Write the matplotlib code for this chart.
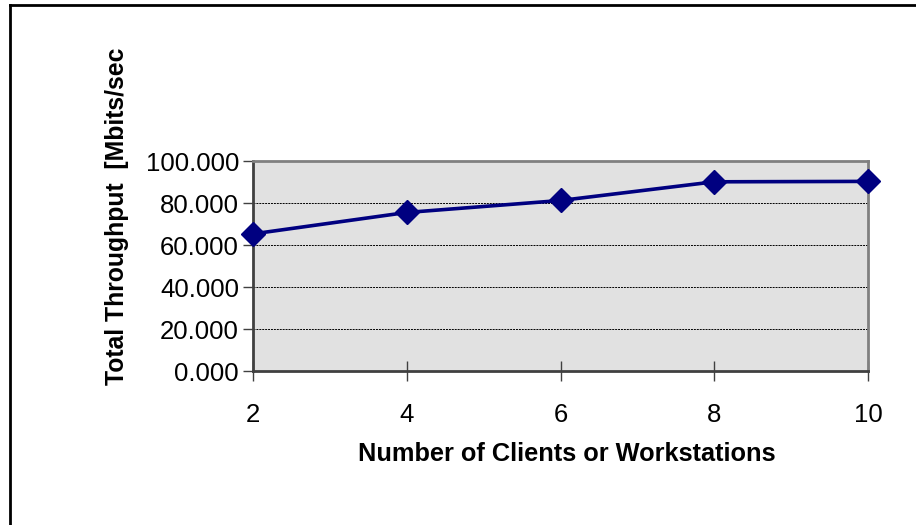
import matplotlib.pyplot as plt
import matplotlib as mpl
from matplotlib.lines import Line2D

mpl.rcParams["font.family"] = ["Liberation Sans", "DejaVu Sans"]

clients = [2, 4, 6, 8, 10]
throughput = [65.3, 75.5, 81.2, 90.1, 90.3]
yticks = [0, 20, 40, 60, 80, 100]

fig = plt.figure(figsize=(9.16, 5.25), dpi=100)
ax = fig.add_axes([0.2762, 0.2933, 0.6714, 0.4])
ax.set_facecolor("#e1e1e1")

ax.plot(clients, throughput, color="#000080", lw=2.6, marker="D", ms=12,
        markerfacecolor="#000080", markeredgecolor="#000080", zorder=3, clip_on=False)

ax.set_xlim(2, 10)
ax.set_ylim(0, 100)
ax.set_xticks(clients)
ax.set_yticks(yticks)
ax.set_yticklabels([f"{v:.3f}" for v in yticks])
ax.yaxis.grid(True, color="black", ls=(0, (2, 1)), lw=0.7)
ax.set_axisbelow(True)

for side in ["top", "right"]:
    ax.spines[side].set_color("#808080")
    ax.spines[side].set_linewidth(2)
for side in ["left", "bottom"]:
    ax.spines[side].set_color("#404040")
    ax.spines[side].set_linewidth(2)

ax.tick_params(axis="y", direction="out", length=7, width=1, colors="#404040",
               labelcolor="black", labelsize=18.5, pad=3)
ax.tick_params(axis="x", direction="inout", length=14, width=1, colors="#404040",
               labelcolor="black", labelsize=18.5, pad=16)

ax.set_xlabel("Number of Clients or Workstations", fontsize=18.3, fontweight="bold")
ax.xaxis.set_label_coords(0.511, -0.34)
fig.text(0.128, 0.588, "Total Throughput  [Mbits/sec", rotation=90, fontsize=17.8,
         fontweight="bold", ha="center", va="center")

# frame on the left and top edges of the figure
fig.add_artist(Line2D([0.0109, 0.0109], [0, 0.99], transform=fig.transFigure, color="black", lw=2))
fig.add_artist(Line2D([0.0109, 1.0], [0.99, 0.99], transform=fig.transFigure, color="black", lw=2))

fig.savefig("out.png", dpi=100)
